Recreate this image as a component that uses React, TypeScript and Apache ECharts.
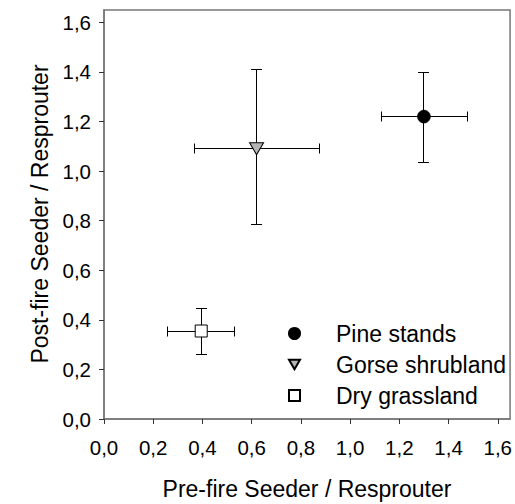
import React, { useEffect, useRef } from "react";
import * as echarts from "echarts";

const seriesNames = ["Pine stands", "Gorse shrubland", "Dry grassland"];
// [x, y]
const centers = [
  [1.30, 1.22],
  [0.62, 1.09],
  [0.395, 0.355],
];
// [xLow, xHigh]
const xErrors = [
  [1.127, 1.477],
  [0.366, 0.875],
  [0.257, 0.531],
];
// [yLow, yHigh]
const yErrors = [
  [1.035, 1.398],
  [0.783, 1.41],
  [0.262, 0.446],
];
const tickValues = [0, 0.2, 0.4, 0.6, 0.8, 1.0, 1.2, 1.4, 1.6];
const tickLabels = ["0,0", "0,2", "0,4", "0,6", "0,8", "1,0", "1,2", "1,4", "1,6"];
const xTitle = "Pre-fire Seeder / Resprouter";
const yTitle = "Post-fire Seeder / Resprouter";

const FONT = "'Liberation Sans', Arial, sans-serif";
const AXIS_COLOR = "#777777";

function fmt(v: number) {
  for (let i = 0; i < tickValues.length; i++) {
    if (Math.abs(tickValues[i] - v) < 1e-6) return tickLabels[i];
  }
  return "";
}

const px = (v: number) => Math.round(v - 0.5) + 0.5;

export default function App() {
  const ref = useRef<HTMLDivElement>(null);
  useEffect(() => {
    if (!ref.current) return;
    const chart = echarts.init(ref.current, undefined, { renderer: "svg" });
    const errData = centers.map((c, i) => [
      c[0], c[1], xErrors[i][0], xErrors[i][1], yErrors[i][0], yErrors[i][1],
    ]);
    const axisCommon = (isX: boolean) => ({
      type: "value" as const,
      min: 0,
      max: 1.65,
      interval: 0.2,
      splitLine: { show: false },
      axisLine: { show: true, lineStyle: { color: AXIS_COLOR, width: 1.5 } },
      axisTick: {
        show: true,
        inside: false,
        length: 5,
        lineStyle: { color: "#333", width: 1 },
        customValues: tickValues,
      },
      axisLabel: {
        show: true,
        margin: isX ? 18 : 13,
        fontSize: 20.5,
        fontFamily: FONT,
        color: "#000",
        customValues: tickValues,
        formatter: (v: number) => fmt(v),
      },
    });
    const markerStyles = [
      { symbol: "circle", symbolSize: 13, itemStyle: { color: "#000", borderColor: "#000", borderWidth: 0.5, opacity: 1 } },
      { symbol: "path://M0,0 L14,0 L7,12 Z", symbolSize: [14, 12], itemStyle: { color: "#b4b4b4", borderColor: "#000", borderWidth: 1, opacity: 1 } },
      { symbol: "rect", symbolSize: 12, itemStyle: { color: "#fff", borderColor: "#000", borderWidth: 1, opacity: 1 } },
    ];
    const scatterSeries = seriesNames.map((name, i) => ({
      type: "scatter" as const,
      name,
      data: [centers[i]],
      symbol: markerStyles[i].symbol,
      symbolSize: markerStyles[i].symbolSize,
      itemStyle: markerStyles[i].itemStyle,
      z: 5,
    }));
    chart.setOption({
      animation: false,
      backgroundColor: "#fff",
      grid: {
        left: 104,
        right: 4,
        top: 10,
        bottom: 85,
        show: true,
        borderColor: AXIS_COLOR,
        borderWidth: 1.5,
        backgroundColor: "transparent",
      },
      xAxis: axisCommon(true),
      yAxis: axisCommon(false),
      legend: {
        orient: "vertical",
        left: 288,
        top: 322,
        itemWidth: 11,
        itemHeight: 11,
        itemGap: 8,
        padding: 0,
        selectedMode: false,
        data: seriesNames,
        textStyle: {
          fontSize: 23,
          fontFamily: FONT,
          color: "#000",
          padding: [0, 0, 0, 31],
        },
      },
      graphic: [
        {
          type: "text",
          x: 307,
          y: 489,
          style: {
            text: xTitle,
            font: `23px ${FONT}`,
            fill: "#000",
            textAlign: "center",
            textVerticalAlign: "middle",
          },
        },
        {
          type: "text",
          x: 40,
          y: 214,
          rotation: Math.PI / 2,
          style: {
            text: yTitle,
            font: `23px ${FONT}`,
            fill: "#000",
            textAlign: "center",
            textVerticalAlign: "middle",
          },
        },
      ],
      series: [
        {
          type: "custom",
          name: "errors",
          data: errData,
          z: 2,
          renderItem: (params: any, api: any) => {
            const c = api.coord([api.value(0), api.value(1)]);
            const xl = api.coord([api.value(2), api.value(1)]);
            const xh = api.coord([api.value(3), api.value(1)]);
            const yl = api.coord([api.value(0), api.value(4)]);
            const yh = api.coord([api.value(0), api.value(5)]);
            const st = { stroke: "#000", lineWidth: 1 };
            const capH = 5;
            const capW = 5.5;
            const cx = px(c[0]);
            const cy = px(c[1]);
            const xlx = px(xl[0]);
            const xhx = px(xh[0]);
            const yly = px(yl[1]);
            const yhy = px(yh[1]);
            return {
              type: "group",
              children: [
                { type: "line", shape: { x1: xlx, y1: cy, x2: xhx, y2: cy }, style: st },
                { type: "line", shape: { x1: xlx, y1: cy - capH, x2: xlx, y2: cy + capH }, style: st },
                { type: "line", shape: { x1: xhx, y1: cy - capH, x2: xhx, y2: cy + capH }, style: st },
                { type: "line", shape: { x1: cx, y1: yly, x2: cx, y2: yhy }, style: st },
                { type: "line", shape: { x1: cx - capW, y1: yly, x2: cx + capW, y2: yly }, style: st },
                { type: "line", shape: { x1: cx - capW, y1: yhy, x2: cx + capW, y2: yhy }, style: st },
              ],
            };
          },
        },
        ...scatterSeries,
      ],
    });
    return () => chart.dispose();
  }, []);
  return <div ref={ref} style={{ width: 515, height: 504, position: "absolute", left: 0, top: 0 }} />;
}
